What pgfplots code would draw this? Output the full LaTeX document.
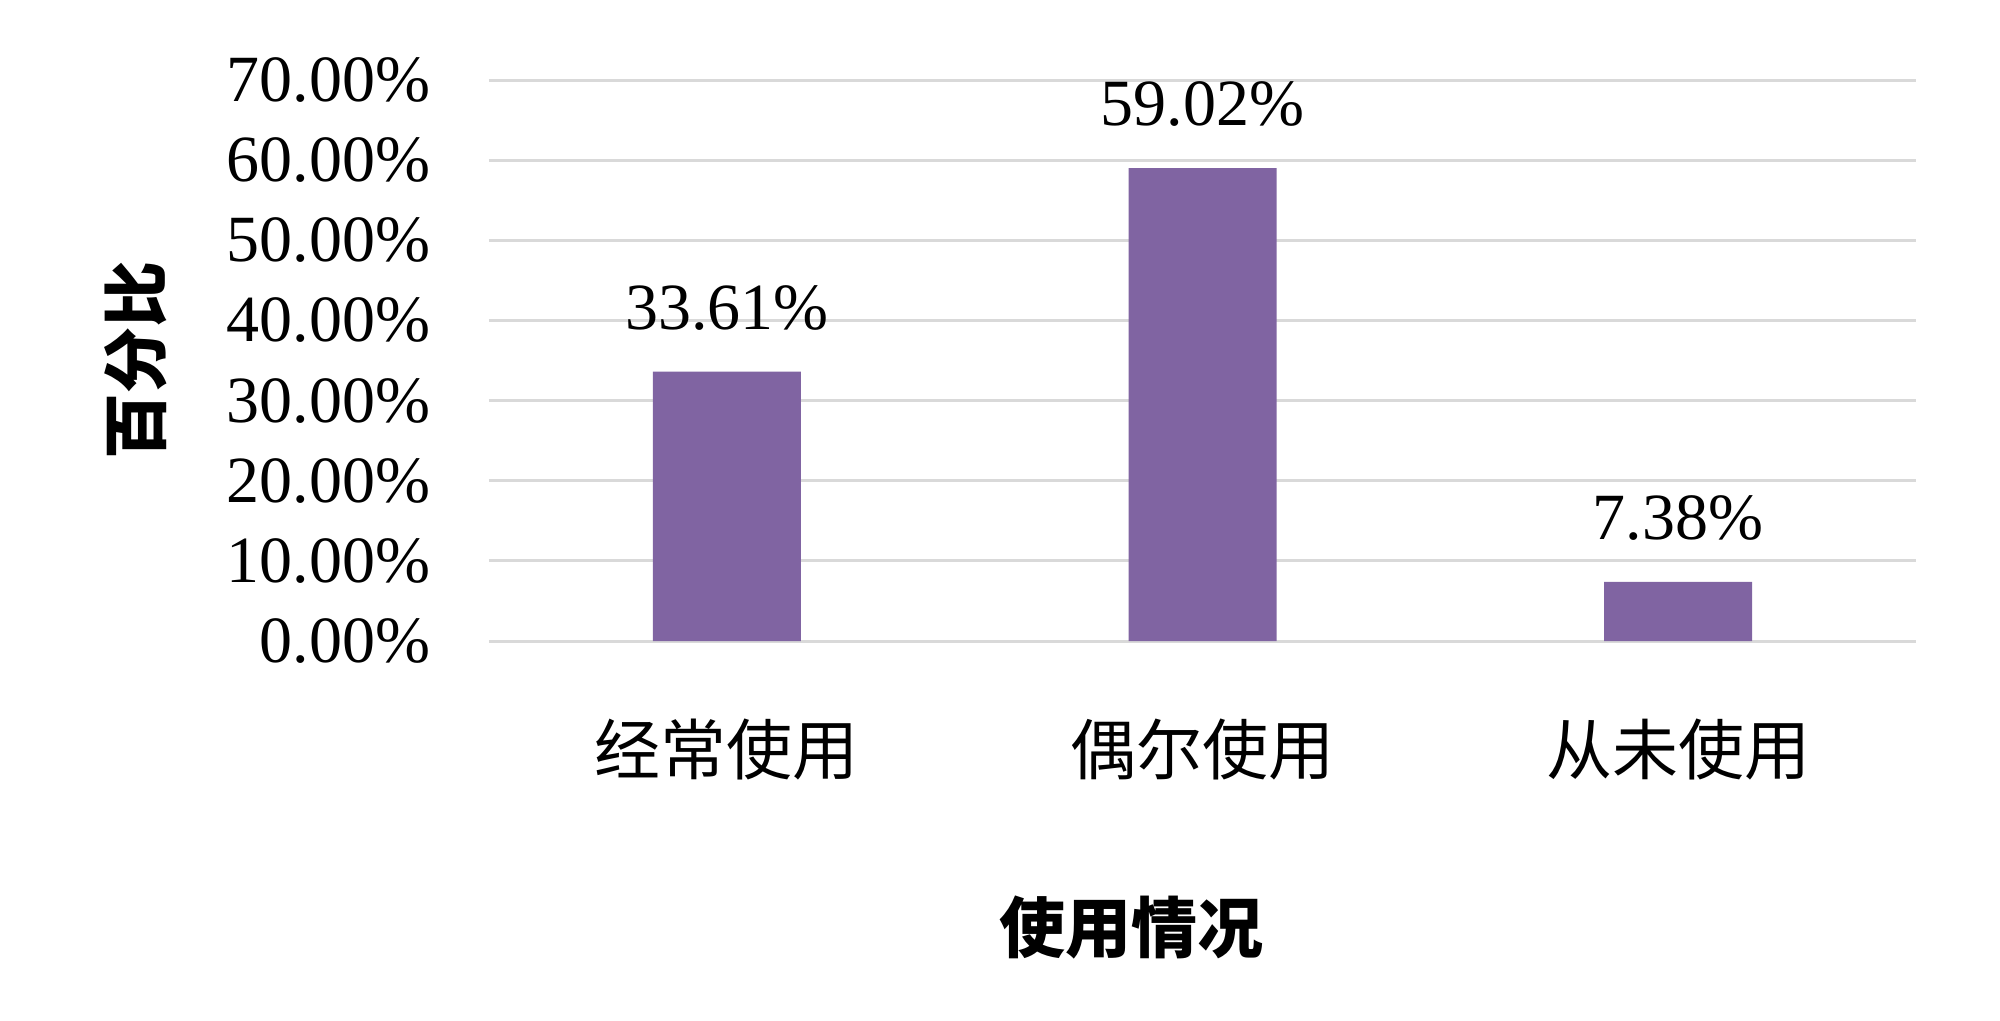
\documentclass[border=0pt]{standalone}
\usepackage{pgfplots}
\pgfplotsset{compat=1.18}
\usepackage{fontspec}
\setmainfont{Liberation Serif}
\newfontfamily\cjk{Noto Sans CJK SC}
\definecolor{barpurple}{HTML}{8064A2}
\definecolor{gridgray}{HTML}{D9D9D9}
\begin{document}
\begin{tikzpicture}
\begin{axis}[
  scale only axis,
  width=356.75pt, height=140.25pt,
  xmin=-0.5, xmax=2.5,
  ymin=0, ymax=70,
  ytick={0,10,...,70},
  xtick={0,1,2},
  xticklabels={经常使用,偶尔使用,从未使用},
  axis line style={draw=none},
  major tick length=0pt,
  ymajorgrids,
  grid style={gridgray, line width=0.75pt},
  /pgf/number format/assume math mode=true,
  tick label style={font=\fontsize{16.5}{18}\selectfont},
  yticklabel={\pgfmathprintnumber[fixed,fixed zerofill,precision=2]{\tick}\%},
  yticklabel style={anchor=east, inner sep=0pt, xshift=-14.5pt},
  xticklabel style={font=\fontsize{16.5}{18}\selectfont\cjk, anchor=center, inner sep=0pt, yshift=-27pt},
  xlabel={使用情况},
  xlabel style={font=\fontsize{16.5}{18}\selectfont\cjk\bfseries, at={(axis description cs:0.45,0)}, anchor=center, yshift=-71.5pt},
  ylabel={百分比},
  ylabel style={font=\fontsize{16.5}{18}\selectfont\cjk\bfseries, at={(axis description cs:0,0.5)}, anchor=center, yshift=88.25pt},
  nodes near coords={\pgfmathprintnumber[fixed,fixed zerofill,precision=2]{\pgfplotspointmeta}\%},
  nodes near coords style={font=\fontsize{16.5}{18}\selectfont, anchor=center, inner sep=0pt, yshift=16pt, /pgf/number format/assume math mode=true},
  clip=false,
]
\addplot[ybar, bar width=37pt, fill=barpurple, draw=none] table[x=x, y=y] {
x y
0 33.61
1 59.02
2 7.38
};
\end{axis}
\pgfresetboundingbox
\path (-122.25pt,-94.75pt) rectangle (377.75pt,160.25pt);
\end{tikzpicture}
\end{document}
